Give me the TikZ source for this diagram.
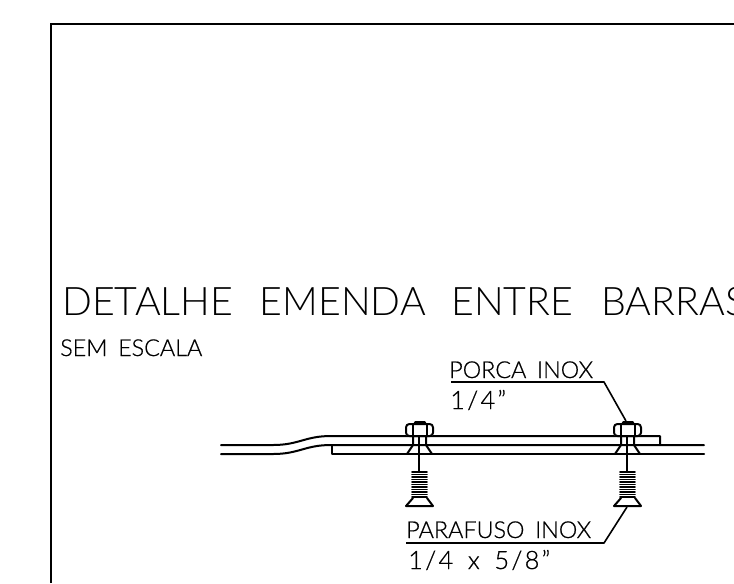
\documentclass[tikz,border=0pt]{standalone}
\usepackage{fontspec}
\setmainfont{Lato}
\newfontfamily\cadfont{Lato Light}
\newfontfamily\rotfont[FakeBold=0.6]{Lato Light}
\newfontfamily\medfont[FakeBold=0.6,LetterSpace=9]{Lato Light}
\usetikzlibrary{calc}
\tikzset{
	peca/.style={line width=1.5pt, line cap=round, line join=round},
	chamada/.style={line width=1.2pt, line join=round},
	rotulo/.style={anchor=base west, inner sep=0pt, font=\rotfont\fontsize{17.5}{20}\selectfont},
	medida/.style={anchor=base west, inner sep=0pt, font=\medfont\fontsize{19}{22}\selectfont},
}

\begin{document}
\begin{tikzpicture}[x=0.75pt, y=-0.75pt]
	\useasboundingbox (0,0) rectangle (734,583);
	\clip (0,0) rectangle (734,583);

	% moldura
	\coordinate (m1) at (51,583);
	\coordinate (m2) at (51,24);
	\coordinate (m3) at (734,24);
	\draw[line width=1.3pt] (m1) -- (m2) -- (m3);

	% textos
	\node[anchor=base west, inner sep=0pt, font=\cadfont\fontsize{29.5}{34}\selectfont] (titulo) at (62,315) {DETALHE\hspace{20pt}EMENDA\hspace{19pt}ENTRE\hspace{21pt}BARRAS};
	\node[rotulo] (escala) at (60,356) {SEM\hspace{8pt}ESCALA};
	\node[rotulo] (porca) at (449,378) {PORCA\hspace{8pt}INOX};
	\node[medida] (porcamed) at (450,409) {1/4”};
	\node[rotulo] (parafuso) at (406,538) {PARAFUSO\hspace{8pt}INOX};
	\node[medida] (parafusomed) at (408,569) {1/4\hspace{11pt}x\hspace{11pt}5/8”};

	% barras
	\draw[peca] (221,445) -- (273,445) .. controls (299,445) and (305,436) .. (331,436) -- (660,436) -- (660,445);
	\draw[peca] (221,454) -- (273,454) .. controls (299,454) and (305,445) .. (331,445) -- (704,445);
	\draw[peca] (332,445) -- (332,454) -- (704,454);

	% parafusos
	\foreach \bx in {419,627}{
		\coordinate (n) at (\bx,424);

		\fill[white] ($(n)+(-13,0)$) rectangle ($(n)+(14,12)$);
		\draw[peca, rounded corners=2.5pt] ($(n)+(-13,0)$) rectangle ($(n)+(14,12)$);
		\draw[peca] ($(n)+(-6,0)$) -- ($(n)+(-6,12)$);
		\draw[peca] ($(n)+(8,0)$) -- ($(n)+(8,12)$);
		\fill ($(n)+(-6,0)$) -- ($(n)+(-4,-3)$) -- ($(n)+(6,-3)$) -- ($(n)+(8,0)$) -- cycle;

		\draw[peca] ($(n)+(-6,12)$) -- ($(n)+(-6,21)$) -- ($(n)+(-12,30)$);
		\draw[peca] ($(n)+(7,12)$) -- ($(n)+(7,21)$) -- ($(n)+(13,30)$);
		\draw[peca] ($(n)+(0,12)$) -- ($(n)+(0,48)$);

		\foreach \ty in {48,50.5,...,74}{
			\draw[line width=1.35pt, line cap=round] ($(n)+(-7,\ty)$) -- ($(n)+(8,\ty)$);
		}

		\draw[peca] ($(n)+(-6,74)$) -- ($(n)+(-13,82)$) -- ($(n)+(14,82)$) -- ($(n)+(8,74)$);
	}

	% chamadas
	\coordinate (c1) at (451,382);
	\coordinate (c2) at (604,382);
	\coordinate (c3) at (626,421);
	\draw[chamada] (c1) -- (c2) -- (c3);

	\coordinate (d1) at (406,543);
	\coordinate (d2) at (604,543);
	\coordinate (d3) at (627,507);
	\draw[chamada] (d1) -- (d2) -- (d3);
\end{tikzpicture}
\end{document}
